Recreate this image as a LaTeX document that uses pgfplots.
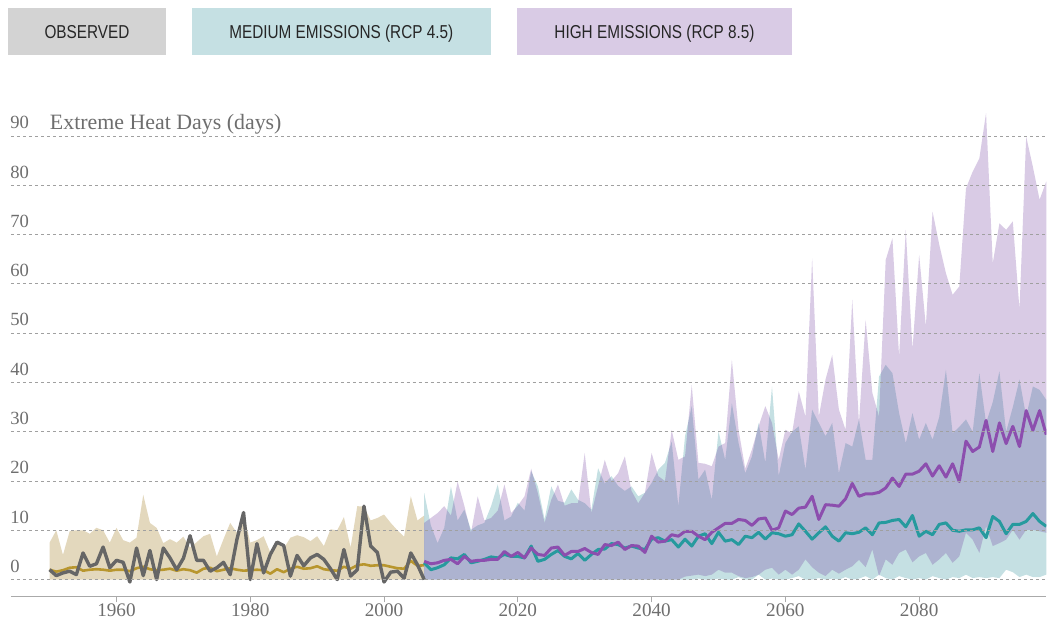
\documentclass[border=0pt]{standalone}
\usepackage{fontspec}
\setmainfont{Liberation Serif}
\newfontfamily\btnfont[FakeStretch=0.82]{Liberation Sans}
\usepackage{pgfplots}
\usepackage{pgfplotstable}
\pgfplotsset{compat=1.18}
\usepgfplotslibrary{fillbetween}
\definecolor{tanband}{RGB}{227,216,189}
\definecolor{tealb}{RGB}{23,131,143}
\definecolor{purpb}{RGB}{103,47,151}
\definecolor{obsline}{RGB}{102,102,102}
\definecolor{goldline}{RGB}{184,150,46}
\definecolor{tealline}{RGB}{38,154,158}
\definecolor{purpline}{RGB}{140,78,174}
\definecolor{btnobs}{RGB}{211,211,211}
\definecolor{btnmed}{RGB}{197,224,227}
\definecolor{btnhigh}{RGB}{217,203,229}
\definecolor{labgray}{RGB}{110,110,110}
\definecolor{gridgray}{RGB}{160,160,160}
\definecolor{axgray}{RGB}{170,170,170}

\pgfplotstableread{
year lo up obs mod
1950 0 7.5 2.0 2.0
1951 0 10.0 0.8 1.6
1952 0 5.0 1.35 1.9
1953 0 9.8 1.7 2.4
1954 0 10.0 1.0 2.5
1955 0 10.0 5.4 1.8
1956 0 9.3 2.7 2.0
1957 0 10.5 3.2 2.1
1958 0 10.0 6.6 2.0
1959 0 7.5 2.4 1.8
1960 0 10.5 3.9 2.0
1961 0 8.0 3.5 2.0
1962 0 7.5 -0.5 1.7
1963 0 8.5 6.4 2.3
1964 0 17.2 0.8 2.6
1965 0 11.5 5.9 2.1
1966 0 10.5 0 1.9
1967 0 7.4 6.4 2.0
1968 0 8.2 4.4 2.2
1969 0 7.5 2.0 1.8
1970 0 8.7 4.3 2.1
1971 0 6.5 8.9 1.9
1972 0 7.6 3.9 1.4
1973 0 8.8 3.9 2.2
1974 0 9.3 1.7 2.4
1975 0 4.7 2.4 1.7
1976 0 8.2 3.5 2.0
1977 0 11.5 1.0 2.3
1978 0 9.5 8.1 2.0
1979 0 13.5 13.6 1.8
1980 0 7.5 0 1.9
1981 0 8.0 7.3 2.0
1982 0 8.8 1.35 1.9
1983 0 5.5 5.1 1.2
1984 0 7.5 7.6 2.1
1985 0 6.3 6.9 1.5
1986 0 8.5 0.7 2.2
1987 0 9.0 4.9 2.6
1988 0 8.6 2.8 2.2
1989 0 7.8 4.4 2.3
1990 0 8.8 5.1 2.7
1991 0 6.8 4.1 2.1
1992 0 10.2 2.2 1.9
1993 0 10.0 0 1.8
1994 0 12.7 6.1 2.6
1995 0 6.5 0.7 2.2
1996 0 14.9 2.0 2.9
1997 0 14.8 14.9 3.1
1998 0 12.0 6.8 2.8
1999 0 12.5 5.5 2.9
2000 0 13.2 -0.5 2.9
2001 0 11.5 1.5 2.6
2002 0 10.0 1.7 2.3
2003 0 8.7 0.3 2.2
2004 0 16.9 5.4 3.8
2005 0 12.0 3.0 2.8
2006 0 13.0 0 2.9
}\obsdata

\pgfplotstableread{
year tlo tup tmed plo pup pmed
2006 0 17.6 3.4 0 11.5 3.7
2007 0 11.0 2.0 0 12.5 3.2
2008 0 7.4 2.4 0 13.5 3.4
2009 0 10.5 3.0 0 14.9 3.9
2010 0 18.9 4.4 0 13.0 4.1
2011 0 12.0 4.2 0 19.9 3.2
2012 0 14.2 5.1 0 15.0 4.7
2013 0 10.1 3.4 0 9.5 3.7
2014 0 11.0 3.7 0 16.9 3.9
2015 0 11.5 4.1 0 12.0 3.9
2016 0 14.9 4.6 0 12.5 4.1
2017 0 19.3 4.4 0 14.0 4.1
2018 0 12.0 5.1 0 19.3 5.7
2019 0 12.8 4.7 0 13.5 4.7
2020 0 15.6 4.7 0 15.0 5.5
2021 0 14.0 4.4 0 16.9 4.4
2022 0 22.0 6.8 0 22.5 6.4
2023 0 18.9 3.7 0 17.5 5.1
2024 0 12.2 4.1 0 11.5 4.9
2025 0 18.9 5.1 0 16.2 6.4
2026 0 16.0 5.9 0 19.3 6.6
2027 0 15.6 4.7 0 15.0 4.9
2028 0 18.3 4.2 0 15.5 5.7
2029 0 16.2 5.3 0 15.5 5.7
2030 0 15.5 3.9 0 25.7 6.3
2031 0 14.2 5.1 0 13.5 5.5
2032 0 22.6 6.1 0 19.0 5.1
2033 0 19.5 6.2 0 24.3 7.1
2034 0 21.0 7.3 0 20.0 6.9
2035 0 19.0 7.1 0 21.6 7.6
2036 0 18.0 6.4 0 25.0 6.1
2037 0 18.9 6.8 0 18.0 6.9
2038 0 16.9 6.4 0 15.5 6.8
2039 0 17.6 6.1 0 17.6 5.5
2040 0 19.6 8.2 0 25.7 8.8
2041 0 22.3 8.5 0 21.0 7.6
2042 0 23.7 7.8 0 20.0 7.8
2043 0 28.0 8.1 0 30.4 9.1
2044 0 14.9 6.6 0 24.3 8.8
2045 0 29.1 8.2 0.6 25.0 9.8
2046 0 35.2 6.8 0.8 39.5 9.8
2047 0.2 20.3 8.8 1.0 23.7 8.8
2048 0 22.3 9.3 0.7 23.5 8.1
2049 0 16.2 7.3 1.0 23.0 9.6
2050 0.2 30.1 9.6 2.0 27.0 10.5
2051 0 24.3 7.8 1.4 27.7 11.4
2052 0 35.8 8.1 1.4 44.6 11.4
2053 0.5 27.7 7.1 0.7 30.4 12.2
2054 0 21.6 8.8 0.3 22.5 12.0
2055 0 25.0 8.5 0.5 26.4 11.0
2056 1.0 31.8 9.6 1.0 31.1 12.3
2057 0 23.7 8.2 2.0 35.2 12.5
2058 0.2 39.2 9.5 2.4 31.8 10.0
2059 0 21.0 9.3 1.0 24.3 10.5
2060 0 27.7 8.8 2.0 30.4 13.9
2061 0.3 30.0 9.1 1.0 29.7 13.2
2062 0.7 31.1 11.3 2.0 38.2 14.5
2063 0 22.3 9.8 4.1 33.1 14.7
2064 0 34.5 8.2 2.5 65.2 16.9
2065 0.3 31.8 9.5 1.4 33.1 12.2
2066 0 29.1 10.7 0.7 40.6 15.2
2067 0.2 31.8 8.8 2.0 45.6 15.1
2068 0 21.6 7.8 1.2 34.5 14.9
2069 0.5 27.7 9.5 2.0 30.4 16.4
2070 0 27.0 9.3 2.7 56.8 19.5
2071 0.2 32.5 9.6 4.0 31.8 16.9
2072 0.7 24.3 10.5 2.5 52.7 17.4
2073 0 24.3 9.1 6.1 37.9 17.4
2074 1.0 41.2 11.5 0.7 33.1 17.7
2075 0.3 43.6 11.6 4.1 64.9 18.6
2076 0 41.9 12.0 3.0 69.3 20.6
2077 0.7 33.8 12.2 5.4 45.3 18.9
2078 0.3 27.7 10.7 6.1 71.0 21.4
2079 0 33.8 13.0 3.5 46.7 21.4
2080 0.3 28.4 8.8 4.7 65.9 22.0
2081 0 31.8 9.8 5.4 51.4 23.5
2082 0.7 28.4 9.1 3.0 74.7 21.0
2083 0.3 33.0 11.2 4.1 68.0 23.1
2084 0 42.6 11.5 5.4 62.2 20.8
2085 0.5 29.7 10.0 3.4 57.8 23.5
2086 0.3 31.0 9.8 4.7 59.5 19.9
2087 1.0 32.5 10.1 9.5 79.4 28.1
2088 0.3 30.0 10.1 8.1 82.8 26.0
2089 0.5 41.9 10.5 5.4 85.5 26.9
2090 0.3 31.8 8.5 10.8 94.7 32.3
2091 0.5 36.0 12.8 6.8 64.2 26.0
2092 0.3 42.3 11.8 7.4 72.3 31.8
2093 2.0 30.0 9.3 8.1 71.0 27.6
2094 1.5 35.0 11.2 10.1 72.7 31.1
2095 0.5 40.6 11.2 8.1 54.8 27.0
2096 1.0 33.1 11.8 10.1 89.9 34.3
2097 0.5 39.2 13.4 10.1 83.8 30.3
2098 0.5 38.5 11.8 9.8 77.1 34.3
2099 1.0 36.5 10.8 9.5 80.8 29.4
}\projdata

\begin{document}
\begin{tikzpicture}
\path (0,0) rectangle (523.5pt,312pt);
% legend buttons
\fill[btnobs] (4pt,284.5pt) rectangle (83pt,308pt);
\fill[btnmed] (96pt,284.5pt) rectangle (245.5pt,308pt);
\fill[btnhigh] (258.5pt,284.5pt) rectangle (396.5pt,308pt);
\node[anchor=base, inner sep=0pt, font=\btnfont\fontsize{9.35pt}{11pt}\selectfont, text=black!85] at (43.5pt,292.85pt) {OBSERVED};
\node[anchor=base, inner sep=0pt, font=\btnfont\fontsize{9.35pt}{11pt}\selectfont, text=black!85] at (170.75pt,292.85pt) {MEDIUM EMISSIONS (RCP 4.5)};
\node[anchor=base, inner sep=0pt, font=\btnfont\fontsize{9.35pt}{11pt}\selectfont, text=black!85] at (327.5pt,292.85pt) {HIGH EMISSIONS (RCP 8.5)};

\begin{axis}[
  at={(5.5pt,13.65pt)}, anchor=south west,
  scale only axis, width=518pt, height=247.45pt,
  xmin=1944.23, xmax=2099, ymin=-3.39, ymax=97,
  axis x line*=bottom, axis y line*=left,
  y axis line style={draw=none},
  x axis line style={draw=axgray, line width=0.75pt},
  xtick={1960,1980,2000,2020,2040,2060,2080},
  ytick={0,10,20,30,40,50,60,70,80,90},
  tick align=outside,
  major tick length=3pt,
  xtick style={draw=axgray, line width=0.5pt},
  ytick style={draw=none},
  ymajorgrids,
  major grid style={draw=gridgray, line width=0.5pt, dash pattern=on 1.5pt off 1.5pt},
  /pgf/number format/assume math mode=true,
  /pgf/number format/1000 sep={},
  xticklabel style={font=\fontsize{9.6pt}{11pt}\selectfont, text=labgray, inner sep=0pt, yshift=-0.65pt},
  yticklabel style={font=\fontsize{9.3pt}{11pt}\selectfont, text=labgray, anchor=south west, inner sep=0pt, xshift=2.5pt, yshift=3.35pt},
  axis on top,
  no markers,
]
% observed band
\addplot[draw=none, name path=ou] table[x=year, y=up] {\obsdata};
\addplot[draw=none, name path=ol] table[x=year, y=lo] {\obsdata};
\addplot[fill=tanband, draw=none] fill between[of=ou and ol];
% RCP 4.5 band
\addplot[draw=none, name path=tu] table[x=year, y=tup] {\projdata};
\addplot[draw=none, name path=tl] table[x=year, y=tlo] {\projdata};
\addplot[fill=tealb, fill opacity=0.25, draw=none] fill between[of=tu and tl];
% RCP 8.5 band
\addplot[draw=none, name path=pu] table[x=year, y=pup] {\projdata};
\addplot[draw=none, name path=pl] table[x=year, y=plo] {\projdata};
\addplot[fill=purpb, fill opacity=0.25, draw=none] fill between[of=pu and pl];
% lines
\addplot[goldline, line width=1.3pt, line join=round] table[x=year, y=mod] {\obsdata};
\addplot[obsline, line width=1.7pt, line join=round] table[x=year, y=obs] {\obsdata};
\addplot[tealline, line width=1.5pt, line join=round] table[x=year, y=tmed] {\projdata};
\addplot[purpline, line width=1.5pt, line join=round] table[x=year, y=pmed] {\projdata};
\node[anchor=base west, inner sep=0pt, font=\fontsize{10.95pt}{13pt}\selectfont, text=labgray, yshift=3.35pt] at (axis cs:1950,90) {Extreme Heat Days (days)};
\end{axis}
\end{tikzpicture}
\end{document}
